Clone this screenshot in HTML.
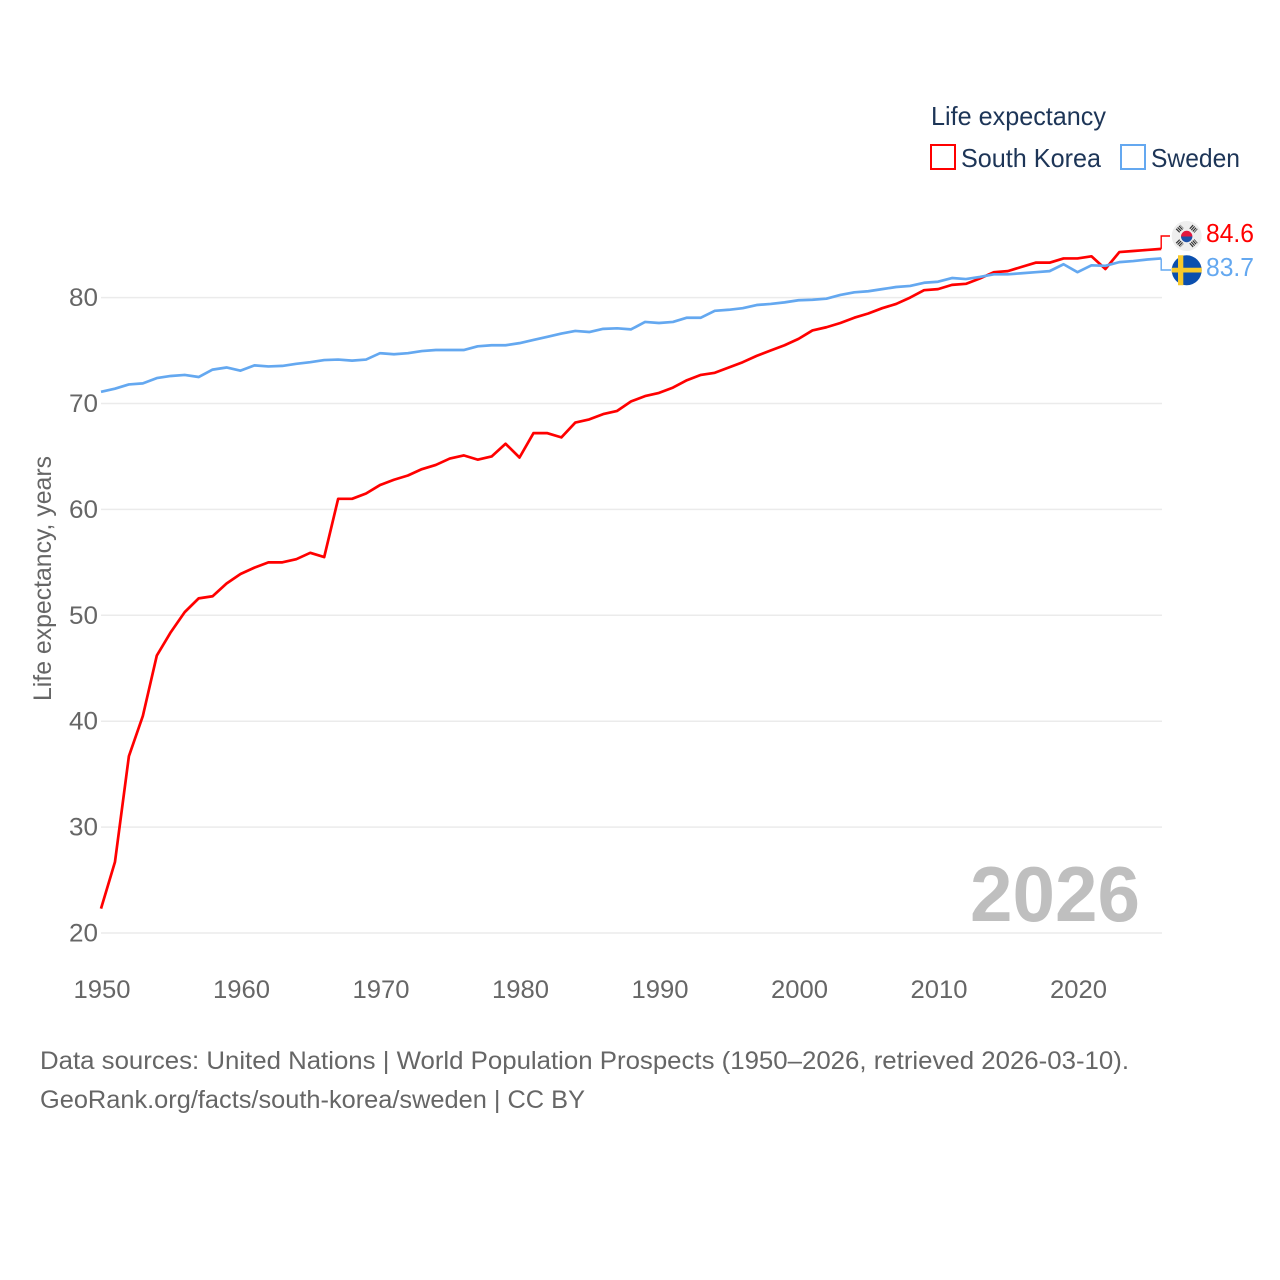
<!DOCTYPE html>
<html lang="en">
<head>
<meta charset="utf-8">
<title>Life expectancy: South Korea and Sweden</title>
<style>
html,body{margin:0;padding:0;background:#fff;}
svg{display:block;font-family:"Liberation Sans",sans-serif;}
</style>
</head>
<body>
<svg id="chart" width="1280" height="1280" viewBox="0 0 1280 1280" xmlns="http://www.w3.org/2000/svg">
  <rect width="1280" height="1280" fill="#fff"/>
  <g id="grid"></g>
  <g id="y-axis"></g>
  <g id="x-axis"></g>
  <text transform="translate(51,701) rotate(-90)" font-size="25" fill="#666" textLength="245" lengthAdjust="spacingAndGlyphs">Life expectancy, years</text>
  <text x="970" y="921" font-size="78" font-weight="700" fill="#bfbfbf" textLength="170" lengthAdjust="spacingAndGlyphs">2026</text>
  <g id="series"></g>

  <g>
    <text x="931" y="125" font-size="26" fill="#1d3557" textLength="175" lengthAdjust="spacingAndGlyphs">Life expectancy</text>
    <g>
      <rect x="931" y="145" width="24" height="24" fill="#fff" stroke="#ff0000" stroke-width="2"/>
      <text x="961" y="167" font-size="26" fill="#1d3557" textLength="140" lengthAdjust="spacingAndGlyphs">South Korea</text>
    </g>
    <g>
      <rect x="1121" y="145" width="24" height="24" fill="#fff" stroke="#64a8f0" stroke-width="2"/>
      <text x="1151" y="167" font-size="26" fill="#1d3557" textLength="89" lengthAdjust="spacingAndGlyphs">Sweden</text>
    </g>
  </g>

  <g>
    <circle cx="1186.700" cy="236" r="15" fill="#eeeeee"/>
    <path d="M1181 236.500a5.700 5.700 0 0 1 11.400 0z" fill="#e3173e"/>
    <path d="M1181 236.500a5.700 5.700 0 0 0 11.400 0z" fill="#1c50a8"/>
    <g stroke="#333" stroke-width="5" stroke-dasharray="1.200 0.800">
      <line x1="1177.500" y1="231" x2="1182" y2="226.500"/>
      <line x1="1191" y1="226.500" x2="1196" y2="231"/>
      <line x1="1177.500" y1="241" x2="1182" y2="245.500"/>
      <line x1="1191" y1="245.500" x2="1196" y2="241"/>
    </g>
  </g>
  <g>
    <circle cx="1186.700" cy="270.300" r="15" fill="#0b4fae"/>
    <path d="M1171.700 267.700h6.300v-12.400h5.300v12.400h18.400v4.800h-18.400v12.800h-5.300v-12.800h-6.300z" fill="#f7c92c"/>
  </g>

  <g>
    <text x="40" y="1069" font-size="25" fill="#666" textLength="1089" lengthAdjust="spacingAndGlyphs">Data sources: United Nations | World Population Prospects (1950–2026, retrieved 2026-03-10).</text>
    <text x="40" y="1108" font-size="25" fill="#666" textLength="545" lengthAdjust="spacingAndGlyphs">GeoRank.org/facts/south-korea/sweden | CC BY</text>
  </g>
</svg>
<script>
const years = [1950,1951,1952,1953,1954,1955,1956,1957,1958,1959,1960,1961,1962,1963,1964,1965,1966,1967,1968,1969,1970,1971,1972,1973,1974,1975,1976,1977,1978,1979,1980,1981,1982,1983,1984,1985,1986,1987,1988,1989,1990,1991,1992,1993,1994,1995,1996,1997,1998,1999,2000,2001,2002,2003,2004,2005,2006,2007,2008,2009,2010,2011,2012,2013,2014,2015,2016,2017,2018,2019,2020,2021,2022,2023,2024,2025,2026];
const southKorea = [22.3,26.7,36.7,40.5,46.2,48.4,50.3,51.6,51.8,53,53.9,54.5,55,55,55.3,55.9,55.5,61,61,61.5,62.3,62.8,63.2,63.8,64.2,64.8,65.1,64.7,65,66.2,64.9,67.2,67.2,66.8,68.2,68.5,69,69.3,70.2,70.7,71,71.5,72.2,72.7,72.9,73.4,73.9,74.5,75,75.5,76.1,76.9,77.2,77.6,78.1,78.5,79,79.4,80,80.7,80.8,81.2,81.3,81.8,82.4,82.5,82.9,83.3,83.3,83.7,83.7,83.9,82.7,84.3,84.4,84.5,84.6];
const sweden = [71.1,71.4,71.8,71.9,72.4,72.6,72.7,72.5,73.2,73.4,73.1,73.6,73.5,73.55,73.75,73.9,74.1,74.15,74.05,74.15,74.75,74.65,74.75,74.95,75.05,75.05,75.05,75.4,75.5,75.5,75.7,76,76.3,76.6,76.85,76.75,77.05,77.1,77,77.7,77.6,77.7,78.1,78.1,78.75,78.85,79,79.3,79.4,79.55,79.75,79.8,79.9,80.25,80.5,80.6,80.8,81,81.1,81.4,81.5,81.85,81.75,81.95,82.2,82.2,82.3,82.4,82.5,83.15,82.4,83.05,83,83.35,83.45,83.6,83.7];
const yTicks = [20,30,40,50,60,70,80];
const xTicks = [1950,1960,1970,1980,1990,2000,2010,2020];

const NS = 'http://www.w3.org/2000/svg';
const xScale = function (year) { return 101 + (year - 1950) * 13.95; };
const yScale = function (value) { return 933 - (value - 20) * 10.59; };

const gridGroup = document.getElementById('grid');
const yGroup = document.getElementById('y-axis');
const xGroup = document.getElementById('x-axis');
const seriesGroup = document.getElementById('series');
const svgRoot = document.getElementById('chart');

yTicks.forEach(function (tick) {
  const line = document.createElementNS(NS, 'line');
  
  
  line.setAttribute('x1', 101);
  line.setAttribute('x2', 1162);
  line.setAttribute('y1', yScale(tick));
  line.setAttribute('y2', yScale(tick));
  line.setAttribute('stroke', '#ebebeb');
  line.setAttribute('stroke-width', 1.5);
  gridGroup.appendChild(line);

  const label = document.createElementNS(NS, 'text');
  
  
  label.setAttribute('x', 69);
  label.setAttribute('y', yScale(tick) + 8.5);
  label.setAttribute('font-size', 25);
  label.setAttribute('fill', '#666');
  label.setAttribute('textLength', 29);
  label.setAttribute('lengthAdjust', 'spacingAndGlyphs');
  label.textContent = String(tick);
  yGroup.appendChild(label);
});

xTicks.forEach(function (tick) {
  const label = document.createElementNS(NS, 'text');
  
  
  label.setAttribute('x', xScale(tick) - 27.5);
  label.setAttribute('y', 998);
  label.setAttribute('font-size', 25);
  label.setAttribute('fill', '#666');
  label.setAttribute('textLength', 57);
  label.setAttribute('lengthAdjust', 'spacingAndGlyphs');
  label.textContent = String(tick);
  xGroup.appendChild(label);
});

function linePoints(values) {
  return values.map(function (value, i) {
    return xScale(years[i]).toFixed(2) + ',' + yScale(value).toFixed(2);
  }).join(' ');
}

const koreaLine = document.createElementNS(NS, 'polyline');


koreaLine.setAttribute('points', linePoints(southKorea));
koreaLine.setAttribute('fill', 'none');
koreaLine.setAttribute('stroke', '#ff0000');
koreaLine.setAttribute('stroke-width', 2.7);
koreaLine.setAttribute('stroke-linejoin', 'round');
seriesGroup.appendChild(koreaLine);

const swedenLine = document.createElementNS(NS, 'polyline');


swedenLine.setAttribute('points', linePoints(sweden));
swedenLine.setAttribute('fill', 'none');
swedenLine.setAttribute('stroke', '#64a8f0');
swedenLine.setAttribute('stroke-width', 2.7);
swedenLine.setAttribute('stroke-linejoin', 'round');
seriesGroup.appendChild(swedenLine);

const lastYearX = xScale(years[years.length - 1]);
const koreaLast = southKorea[southKorea.length - 1];
const swedenLast = sweden[sweden.length - 1];

const koreaConnector = document.createElementNS(NS, 'polyline');


koreaConnector.setAttribute('points', lastYearX + ',' + yScale(koreaLast) + ' ' + lastYearX + ',236 1170,236');
koreaConnector.setAttribute('fill', 'none');
koreaConnector.setAttribute('stroke', '#ff0000');
koreaConnector.setAttribute('stroke-width', 1.4);
seriesGroup.appendChild(koreaConnector);

const swedenConnector = document.createElementNS(NS, 'polyline');


swedenConnector.setAttribute('points', lastYearX + ',' + yScale(swedenLast) + ' ' + lastYearX + ',270 1171,270');
swedenConnector.setAttribute('fill', 'none');
swedenConnector.setAttribute('stroke', '#64a8f0');
swedenConnector.setAttribute('stroke-width', 1.4);
seriesGroup.appendChild(swedenConnector);

const koreaValue = document.createElementNS(NS, 'text');


koreaValue.setAttribute('x', 1206);
koreaValue.setAttribute('y', 242);
koreaValue.setAttribute('font-size', 26);
koreaValue.setAttribute('fill', '#ff0000');
koreaValue.setAttribute('textLength', 48);
koreaValue.setAttribute('lengthAdjust', 'spacingAndGlyphs');
koreaValue.textContent = koreaLast.toFixed(1);
svgRoot.appendChild(koreaValue);

const swedenValue = document.createElementNS(NS, 'text');


swedenValue.setAttribute('x', 1206);
swedenValue.setAttribute('y', 276);
swedenValue.setAttribute('font-size', 26);
swedenValue.setAttribute('fill', '#64a8f0');
swedenValue.setAttribute('textLength', 48);
swedenValue.setAttribute('lengthAdjust', 'spacingAndGlyphs');
swedenValue.textContent = swedenLast.toFixed(1);
svgRoot.appendChild(swedenValue);
</script>
</body>
</html>
